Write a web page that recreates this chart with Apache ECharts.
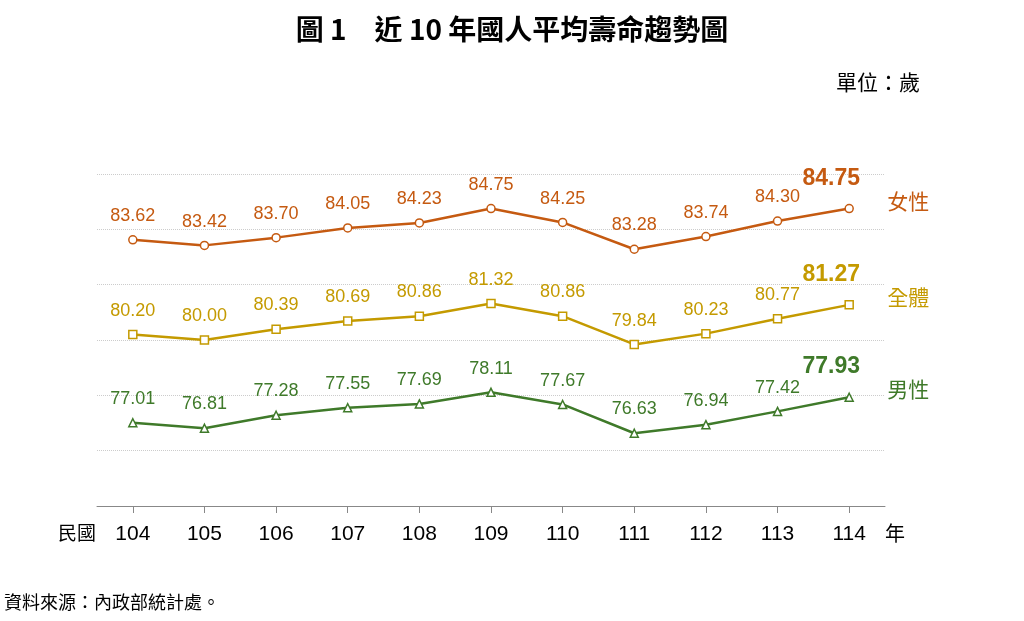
<!DOCTYPE html>
<html>
<head>
<meta charset="utf-8">
<script src="https://cdn.jsdelivr.net/npm/echarts@6/dist/echarts.min.js"></script>
<style>
  html, body { margin: 0; padding: 0; background: #fff; }
  #main { width: 1024px; height: 621px; }
</style>
</head>
<body>
<div id="main"></div>
<script>
// 年份（民國）
var years = ['104', '105', '106', '107', '108', '109', '110', '111', '112', '113', '114']
var female = [83.62, 83.42, 83.70, 84.05, 84.23, 84.75, 84.25, 83.28, 83.74, 84.30, 84.75]
var total = [80.20, 80.00, 80.39, 80.69, 80.86, 81.32, 80.86, 79.84, 80.23, 80.77, 81.27]
var male = [77.01, 76.81, 77.28, 77.55, 77.69, 78.11, 77.67, 76.63, 76.94, 77.42, 77.93]

var cjk = '"Noto Sans CJK TC", sans-serif'

function makeSeries(name, data, color, symbol) {
  var last = data.length - 1
  return {
    name: name,
    type: 'line',
    data: data.map(function (v, i) {
      if (i === last) {
        return { value: v, label: { fontSize: 23, fontWeight: 'bold', offset: [-18, -4] } }
      }
      return v
    }),
    symbol: symbol,
    symbolSize: 8,
    lineStyle: { color: color, width: 2.5 },
    itemStyle: { color: '#fff', borderColor: color, borderWidth: 1.5 },
    label: {
      show: true,
      position: 'top',
      distance: 10,
      color: color,
      fontFamily: 'Arial, "Liberation Sans", sans-serif',
      fontSize: 18,
      formatter: function (p) { return p.value.toFixed(2) }
    },
    endLabel: {
      show: true,
      formatter: '{a}',
      color: color,
      fontFamily: cjk,
      fontSize: 21,
      offset: [30, -8]
    },
    animation: false
  }
}

var myChart = echarts.init(document.getElementById('main'))
var option = {
  backgroundColor: '#fff',
  title: {
    text: '圖 1　近 10 年國人平均壽命趨勢圖',
    left: 'center',
    top: 10,
    textStyle: { fontFamily: cjk, fontSize: 28, fontWeight: 'bold', color: '#000' }
  },
  grid: { left: 97, right: 139, top: 174, bottom: 115 },
  xAxis: {
    type: 'category',
    data: years,
    boundaryGap: true,
    axisLine: { lineStyle: { color: '#888', width: 1 } },
    axisTick: { show: true, alignWithLabel: true, length: 7, lineStyle: { color: '#888' } },
    axisLabel: {
      color: '#000', fontSize: 21, margin: 18,
      fontFamily: 'Arial, "Liberation Sans", sans-serif'
    }
  },
  yAxis: {
    type: 'value',
    min: 74,
    max: 86,
    interval: 2,
    axisLabel: { show: false },
    axisLine: { show: false },
    axisTick: { show: false },
    splitLine: { lineStyle: { color: '#ccc', type: 'dotted', width: 1 } }
  },
  graphic: [
    { type: 'text', left: 836, top: 72, style: { text: '單位：歲', font: '21px ' + cjk, fill: '#000' } },
    { type: 'text', left: 58, top: 523, style: { text: '民國', font: '19px ' + cjk, fill: '#000' } },
    { type: 'text', left: 885, top: 523, style: { text: '年', font: '20px ' + cjk, fill: '#000' } },
    { type: 'text', left: 4, top: 593, style: { text: '資料來源：內政部統計處。', font: '18px ' + cjk, fill: '#000' } }
  ],
  series: [
    makeSeries('女性', female, '#C55A11', 'circle'),
    makeSeries('全體', total, '#C49A00', 'rect'),
    makeSeries('男性', male, '#3F7A2A', 'triangle')
  ]
}
myChart.setOption(option)
</script>
</body>
</html>
